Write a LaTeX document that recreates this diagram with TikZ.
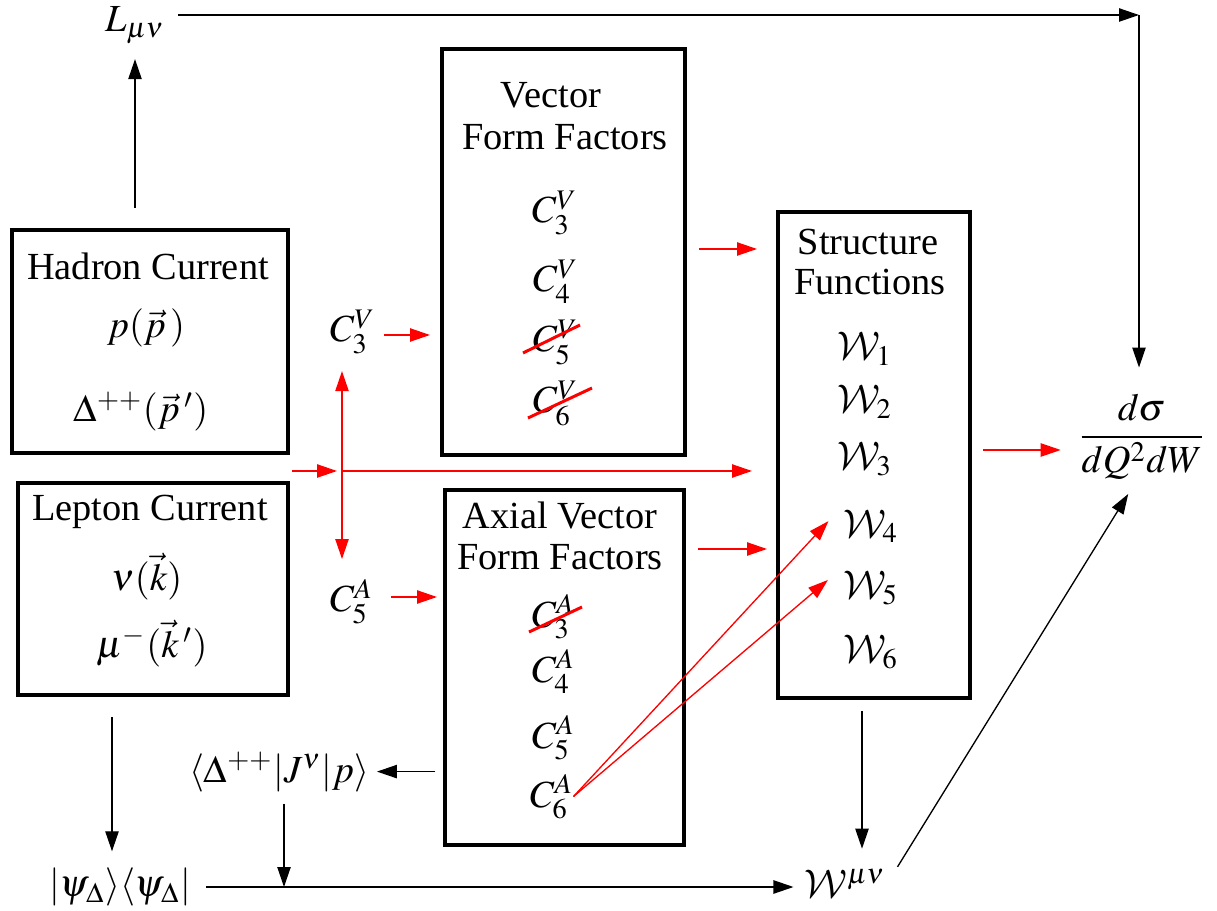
\documentclass[tikz,border=0pt]{standalone}
\usepackage{mathptmx}
\DeclareMathAlphabet{\mathcal}{OMS}{cmsy}{m}{n}
\usepackage[no-math]{fontspec}
\setmainfont{Liberation Serif}
\usetikzlibrary{arrows.meta,fit}
\begin{document}
\begin{tikzpicture}[x=0.3pt,y=-0.3pt,
  every node/.style={font=\fontsize{11.5}{13.8}\selectfont, inner sep=0pt, outer sep=0pt},
  box/.style={draw, line width=1pt, inner sep=0pt},
  tip/.style={-{Triangle[length=6pt,width=4pt]}},
  blk/.style={black, line width=0.4pt, tip},
  rd/.style={red, line width=0.4pt, tip},
  strike/.style={red, line width=0.9pt}]
\useasboundingbox (0,0) rectangle (1217,911);

% boxes
\node[box, fit={(12,230) (288,453)}] (had) {};
\node[box, fit={(18,483) (288,695)}] (lep) {};
\node[box, fit={(442,49) (685,455)}] (vff) {};
\node[box, fit={(445,490) (684,845)}] (aff) {};
\node[box, fit={(778,212) (970,698)}] (sf) {};

% hadron / lepton text
\node[anchor=base] (hadt) at (148,280) {Hadron Current};
\node[anchor=base] (hadp) at (146,338) {$p(\vec{p}\,)$};
\node[anchor=base] (hadd) at (141,422) {$\Delta^{++}(\vec{p}\,')$};
\node[anchor=base] (lept) at (150,520) {Lepton Current};
\node[anchor=base] (lepk) at (147,590) {$\nu(\vec{k})$};
\node[anchor=base] (lepm) at (152,657) {$\mu^{-}(\vec{k}\,')$};

% vector form factors
\node[anchor=base] (vt1) at (551,108) {Vector};
\node[anchor=base] (vt2) at (565,150) {Form Factors};
\node[anchor=base west] (c3v) at (532,223) {$C_3^V$};
\node[anchor=base west] (c4v) at (533,292) {$C_4^V$};
\node[anchor=base west] (c5v) at (533,352) {$C_5^V$};
\node[anchor=base west] (c6v) at (533,413) {$C_6^V$};
\draw[strike] (523,353) -- (580,325);
\draw[strike] (528,418) -- (592,388);

% axial form factors
\node[anchor=base] (at1) at (560,528) {Axial Vector};
\node[anchor=base] (at2) at (560,570) {Form Factors};
\node[anchor=base west] (c3a) at (532,627) {$C_3^A$};
\node[anchor=base west] (c4a) at (532,682) {$C_4^A$};
\node[anchor=base west] (c5a) at (532,748) {$C_5^A$};
\node[anchor=base west] (c6a) at (530,807) {$C_6^A$};
\draw[strike] (529,632) -- (582,607);

% structure functions
\node[anchor=base] (st1) at (868,255) {Structure};
\node[anchor=base] (st2) at (870,295) {Functions};
\node[anchor=base west] (w1) at (837,360) {$\mathcal{W}_1$};
\node[anchor=base west] (w2) at (837,413) {$\mathcal{W}_2$};
\node[anchor=base west] (w3) at (837,470) {$\mathcal{W}_3$};
\node[anchor=base west] (w4) at (843,537) {$\mathcal{W}_4$};
\node[anchor=base west] (w5) at (843,598) {$\mathcal{W}_5$};
\node[anchor=base west] (w6) at (843,662) {$\mathcal{W}_6$};

% free labels
\node[anchor=base] (lmn) at (135,32) {$L_{\mu\nu}$};
\node (dsig) at (1142,437) {$\displaystyle\frac{d\sigma}{dQ^2dW}$};
\node[anchor=base west] (c3vl) at (330,342) {$C_3^V$};
\node[anchor=base west] (c5al) at (330,612) {$C_5^A$};
\node[anchor=base] (mat) at (279,782) {$\langle\Delta^{++}|J^{\nu}|p\rangle$};
\node (psi) at (120,887) {$|\psi_\Delta\rangle\langle\psi_\Delta|$};
\node[anchor=base] (wmn) at (845,897) {$\mathcal{W}^{\mu\nu}$};

\coordinate (tr) at (1139,15);
\coordinate (vx) at (342,471);
\coordinate (y249) at (0,249);
\coordinate (y549) at (0,549);
\coordinate (y450) at (0,450);
\coordinate (y335) at (0,335);
\coordinate (y597) at (0,597);

% black connectors
\draw[blk, shorten <=6.6pt, shorten >=4.5pt] (had.north -| lmn) -- (lmn.south);
\draw[blk, shorten <=3.9pt] (lmn.east |- tr) -- (tr);
\draw[blk, shorten >=8pt] (tr) -- (tr |- dsig.north);
\draw[blk, shorten <=6.6pt, shorten >=5pt] ([xshift=-12.3pt]lep.south) -- ([xshift=-12.3pt]lep.south |- psi.north);
\draw[blk, shorten <=4.5pt, shorten >=3.3pt] (psi.east) -- (psi.east -| wmn.west);
\draw[blk, shorten <=3.6pt] ([xshift=1.5pt]mat.south) -- ([xshift=1.5pt]mat.south |- psi.east);
\draw[blk, shorten <=3pt, shorten >=2.4pt] (aff.west |- mat) -- (mat.east |- mat);
\draw[blk, shorten <=3.9pt, shorten >=6pt] ([xshift=-3.6pt]sf.south) -- ([xshift=-3.6pt]sf.south |- wmn.north);
\draw[blk, shorten >=5pt] ([shift={(12,-16)}]wmn.east) -- ([xshift=-1.5pt]dsig.south);

% red connectors
\draw[rd, shorten <=4.2pt, shorten >=6.3pt] (vff.east |- y249) -- (sf.west |- y249);
\draw[rd, shorten <=4.2pt, shorten >=3.3pt] (aff.east |- y549) -- (sf.west |- y549);
\draw[rd, shorten <=3.9pt, shorten >=5.1pt] (sf.east |- y450) -- (dsig.west |- y450);
\draw[rd, shorten <=2.4pt, shorten >=3.6pt] (c3vl.east |- y335) -- (vff.west |- y335);
\draw[rd, shorten <=5.4pt, shorten >=2.4pt] (c5al.east |- y597) -- (aff.west |- y597);
\draw[rd, shorten <=1.2pt, shorten >=1.5pt] (had.east |- vx) -- (vx);
\draw[rd, shorten >=7.8pt] (vx) -- (sf.west |- vx);
\draw[rd, {Triangle[length=6pt,width=4pt]}-{Triangle[length=6pt,width=4pt]}, shorten <=5.1pt, shorten >=6pt] (vx |- c3vl.south) -- (vx |- c5al.north);
\draw[rd, shorten >=2pt] (c6a.east) -- ([shift={(-10,-10)}]w4.west);
\draw[rd, shorten >=2pt] (c6a.east) -- ([shift={(-10,-12)}]w5.west);
\end{tikzpicture}
\end{document}
